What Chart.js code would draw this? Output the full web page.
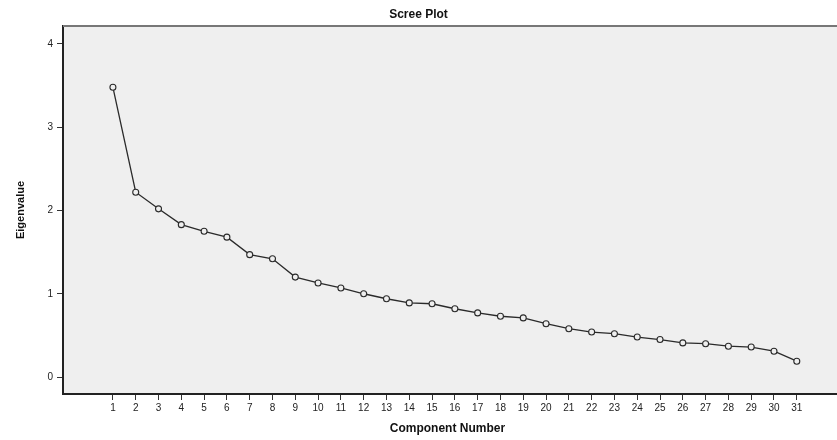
<!DOCTYPE html>
<html lang="en">
<head>
    <meta charset="UTF-8">
    <title>Scree Plot</title>
    <script src="https://cdn.jsdelivr.net/npm/chart.js"></script>
    <style>
        html, body { margin: 0; padding: 0; background: #fff; }
        #wrap { width: 837px; height: 440px; }
    </style>
</head>
<body>
<div id="wrap"><canvas id="screeChart" width="837" height="440"></canvas></div>

<script>
    // component numbers and eigenvalues
    const components = [1, 2, 3, 4, 5, 6, 7, 8, 9, 10, 11, 12, 13, 14, 15, 16,
        17, 18, 19, 20, 21, 22, 23, 24, 25, 26, 27, 28, 29, 30, 31];
    const eigenvalues = [3.48, 2.22, 2.02, 1.83, 1.75, 1.68, 1.47, 1.42, 1.20, 1.13, 1.07,
        1.00, 0.94, 0.89, 0.88, 0.82, 0.77, 0.73, 0.71, 0.64, 0.58, 0.54, 0.52,
        0.48, 0.45, 0.41, 0.40, 0.37, 0.36, 0.31, 0.19];
    const yTicks = [0, 1, 2, 3, 4];

    const axisColor = '#333';
    const fontFamily = '"Liberation Sans", Arial, sans-serif';

    // grey plot background running to the canvas edge, top border, bottom axis extension
    const plotFrame = {
        id: 'plotFrame',
        beforeDraw(chart) {
            const { ctx, chartArea, width } = chart;
            ctx.save();
            ctx.fillStyle = '#efefef';
            ctx.fillRect(chartArea.left, chartArea.top, width - chartArea.left, chartArea.bottom - chartArea.top);
            ctx.restore();
        },
        afterDraw(chart) {
            const { ctx, chartArea, width } = chart;
            ctx.save();
            ctx.strokeStyle = '#777';
            ctx.lineWidth = 2;
            ctx.beginPath();
            ctx.moveTo(chartArea.left, chartArea.top);
            ctx.lineTo(width, chartArea.top);
            ctx.stroke();
            ctx.strokeStyle = '#222';
            ctx.beginPath();
            ctx.moveTo(chartArea.right - 1, chartArea.bottom);
            ctx.lineTo(width, chartArea.bottom);
            ctx.stroke();
            ctx.restore();
        }
    };

    new Chart(document.getElementById('screeChart').getContext('2d'), {
        type: 'line',
        data: {
            datasets: [{
                label: 'Eigenvalue',
                data: components.map((c, i) => ({ x: c, y: eigenvalues[i] })),
                borderColor: '#2a2a2a',
                borderWidth: 1.3,
                pointStyle: 'circle',
                pointRadius: 3,
                pointBorderWidth: 1.1,
                pointBorderColor: '#2a2a2a',
                pointBackgroundColor: '#efefef',
                tension: 0,
                fill: false,
            }],
        },
        options: {
            responsive: false,
            animation: false,
            layout: { padding: 0 },
            plugins: {
                legend: { display: false },
                tooltip: { enabled: false },
                title: {
                    display: true,
                    text: 'Scree Plot',
                    color: '#111',
                    font: { family: fontFamily, size: 12, weight: 'bold', lineHeight: 1.2 },
                    padding: { top: 7, bottom: 4.6 },
                },
            },
            scales: {
                x: {
                    type: 'linear',
                    min: -1.19,
                    max: 32.54,
                    afterBuildTicks(scale) {
                        scale.ticks = components.map(v => ({ value: v }));
                    },
                    afterFit(scale) { scale.height = 46; },
                    ticks: {
                        autoSkip: false,
                        maxRotation: 0,
                        color: '#222',
                        padding: 2,
                        font: { family: fontFamily, size: 10 },
                    },
                    grid: {
                        drawOnChartArea: false,
                        drawTicks: true,
                        tickLength: 6,
                        color: axisColor,
                    },
                    border: { display: true, color: '#222', width: 2 },
                    title: {
                        display: true,
                        text: 'Component Number',
                        color: '#111',
                        font: { family: fontFamily, size: 12, weight: 'bold' },
                        padding: { top: 2, bottom: 4 },
                    },
                },
                y: {
                    min: -0.204,
                    max: 4.216,
                    afterBuildTicks(scale) {
                        scale.ticks = yTicks.map(v => ({ value: v }));
                    },
                    afterFit(scale) { scale.width = 63; },
                    ticks: {
                        color: '#222',
                        padding: 4,
                        font: { family: fontFamily, size: 10 },
                    },
                    grid: {
                        drawOnChartArea: false,
                        drawTicks: true,
                        tickLength: 6,
                        color: axisColor,
                    },
                    border: { display: true, color: '#222', width: 2 },
                    title: {
                        display: true,
                        text: 'Eigenvalue',
                        color: '#111',
                        font: { family: fontFamily, size: 11, weight: 'bold' },
                        padding: { top: 14, bottom: 0 },
                    },
                },
            },
        },
        plugins: [plotFrame],
    });
</script>

</body>
</html>
